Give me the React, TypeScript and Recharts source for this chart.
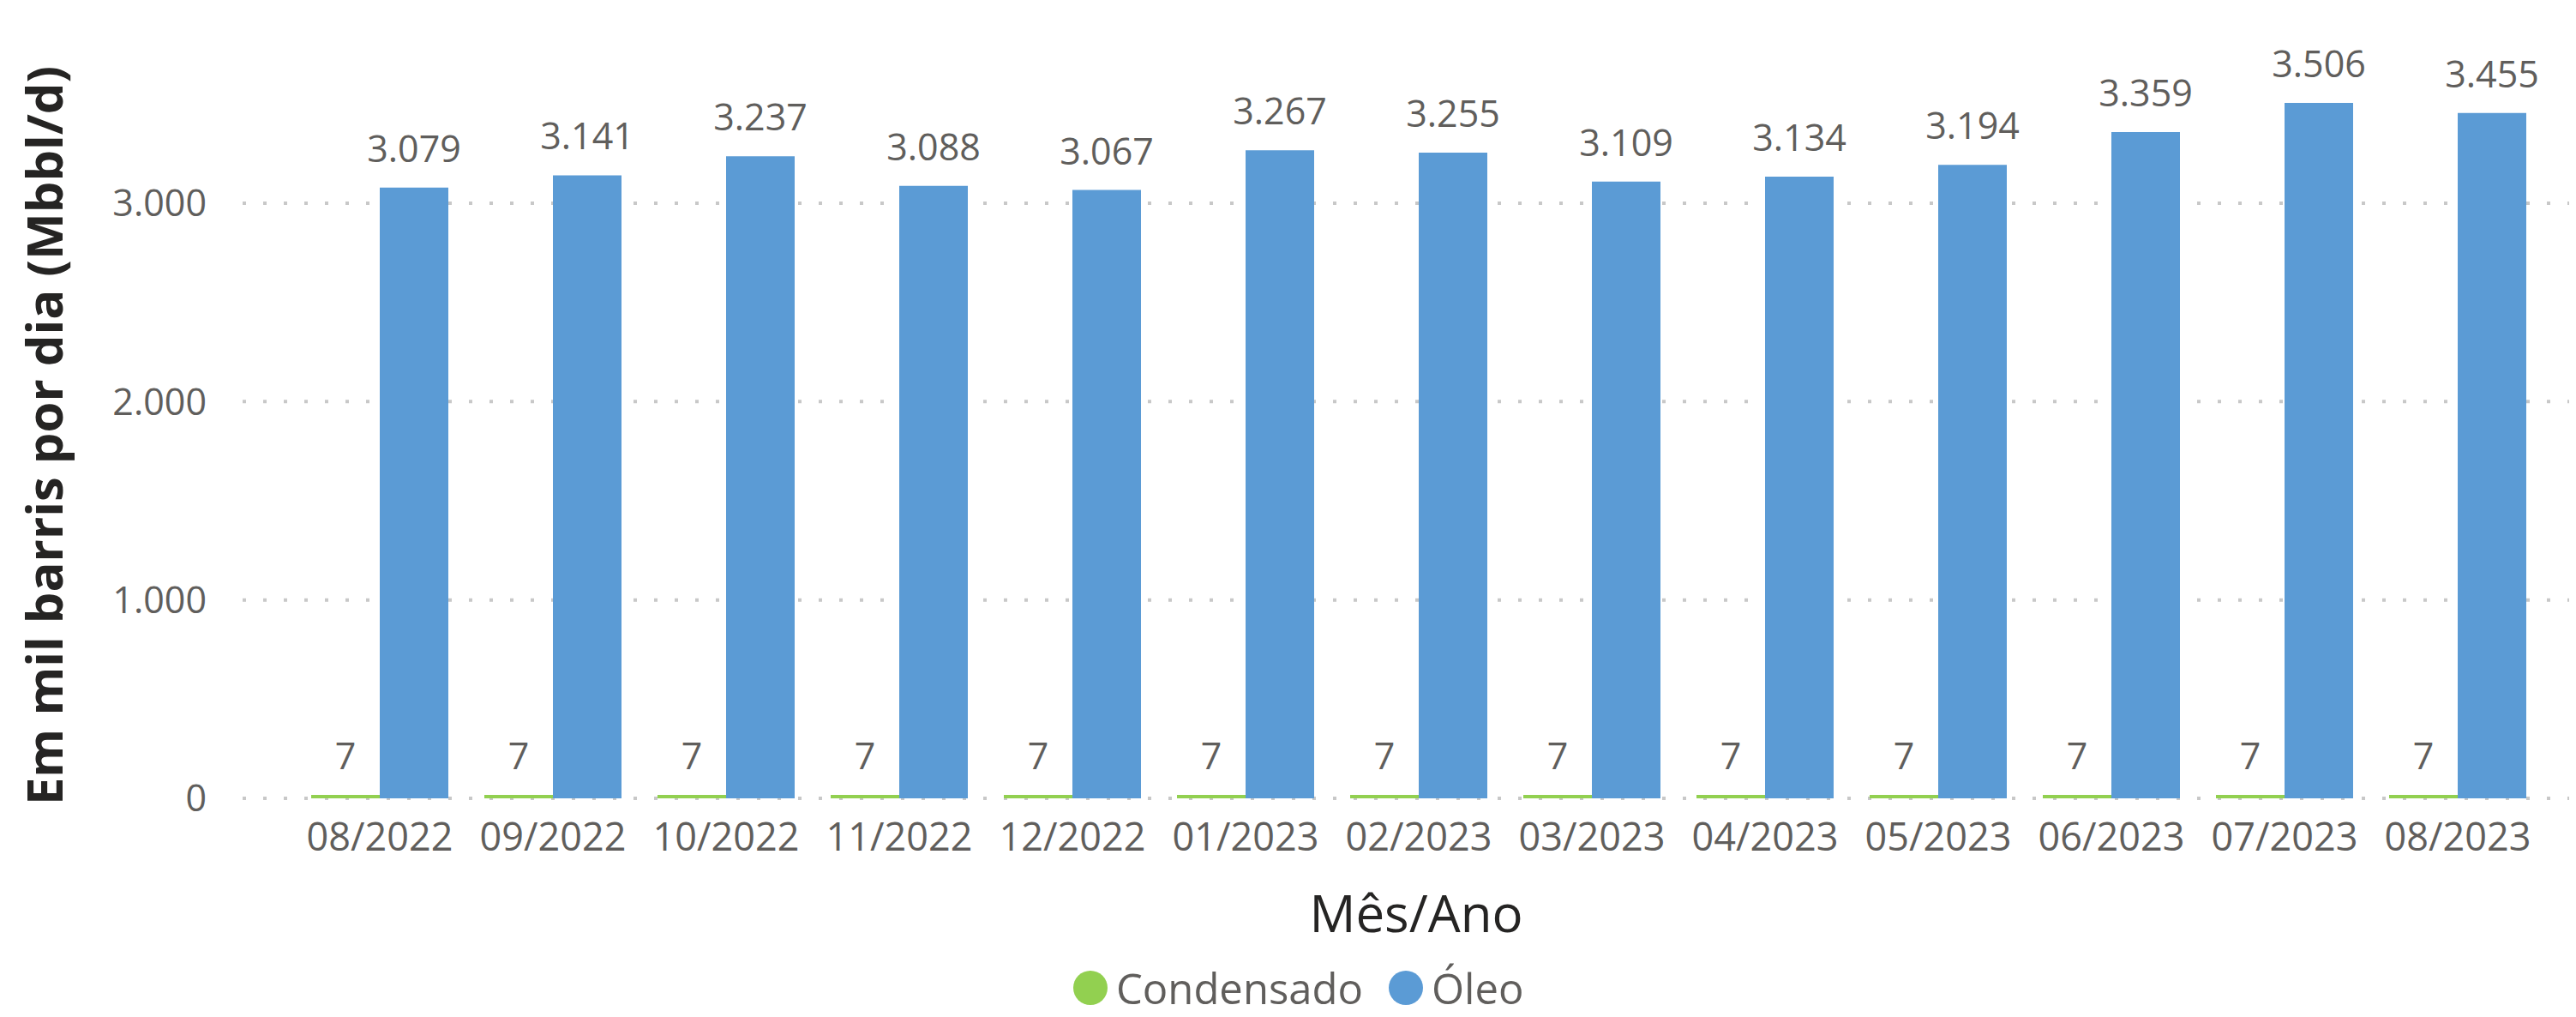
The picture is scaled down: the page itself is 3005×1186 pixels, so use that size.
import React from "react"
import { BarChart, Bar, XAxis, YAxis, CartesianGrid, Legend, LabelList } from "recharts"

const months = [
  "08/2022", "09/2022", "10/2022", "11/2022", "12/2022", "01/2023", "02/2023",
  "03/2023", "04/2023", "05/2023", "06/2023", "07/2023", "08/2023",
]
const condensado = [7, 7, 7, 7, 7, 7, 7, 7, 7, 7, 7, 7, 7]
const oleo = [3079, 3141, 3237, 3088, 3067, 3267, 3255, 3109, 3134, 3194, 3359, 3506, 3455]
const yTicks = [0, 1000, 2000, 3000]

const data = months.map((m, i) => ({ month: m, condensado: condensado[i], oleo: oleo[i] }))

const FONT = "'Segoe UI', 'Open Sans', sans-serif"
const GREEN = "#92D050"
const BLUE = "#5B9BD5"
const TEXT = "#605E5C"

// pt-BR style thousands separator
const fmt = (v: number) => String(Math.round(v)).replace(/\B(?=(\d{3})+(?!\d))/g, ".")

function YTitle() {
  return (
    <text
      x={73}
      y={508}
      transform="rotate(-90 73 508)"
      textAnchor="middle"
      fontFamily={FONT}
      fontWeight={700}
      fontSize={58}
      fill="#252423"
    >
      Em mil barris por dia (Mbbl/d)
    </text>
  )
}

function LegendContent() {
  const items = [
    { name: "Condensado", color: GREEN },
    { name: "Óleo", color: BLUE },
  ]
  return (
    <div style={{ display: "flex", alignItems: "center", fontFamily: FONT, fontSize: 49, lineHeight: "44px", color: TEXT, whiteSpace: "nowrap" }}>
      {items.map((it) => (
        <div key={it.name} style={{ display: "flex", alignItems: "center", marginRight: 30 }}>
          <span style={{ width: 40, height: 40, borderRadius: "50%", background: it.color, display: "inline-block", marginRight: 10 }} />
          <span>{it.name}</span>
        </div>
      ))}
    </div>
  )
}

export default function App() {
  return (
    <div style={{ width: 3005, height: 1186, background: "#fff" }}>
      <style>{`body{margin:0}`}</style>
      <BarChart
        width={3005}
        height={1186}
        data={data}
        margin={{ top: 52, right: 8, bottom: 85, left: 0 }}
        barGap={0}
        style={{ fontFamily: FONT }}
      >
        <CartesianGrid
          vertical={false}
          horizontalValues={yTicks}
          stroke="#C8C8C8"
          strokeWidth={4}
          strokeDasharray="4 20"
        />
        <XAxis
          dataKey="month"
          axisLine={false}
          tickLine={false}
          tickSize={0}
          tickMargin={29}
          height={170}
          interval={0}
          padding={{ left: 59, right: 29 }}
          tick={{ fontSize: 45, fill: TEXT, fontFamily: FONT }}
          label={{ value: "Mês/Ano", position: "insideBottom", offset: 14, dx: 12, fontSize: 60, fill: "#252423", fontFamily: FONT }}
        />
        <YAxis
          domain={[0, 3800]}
          ticks={yTicks}
          width={283}
          axisLine={false}
          tickLine={false}
          tickSize={0}
          tickMargin={42}
          tickFormatter={fmt}
          tick={{ fontSize: 43, fill: TEXT, fontFamily: FONT }}
          label={{ content: () => <YTitle /> }}
        />
        <Legend
          verticalAlign="middle"
          align="center"
          layout="horizontal"
          content={() => <LegendContent />}
          wrapperStyle={{ left: 1252, top: 1130, width: 600, height: 44 }}
        />
        <Bar dataKey="condensado" name="Condensado" fill={GREEN} barSize={80} minPointSize={4} isAnimationActive={false}>
          <LabelList dataKey="condensado" position="top" offset={30} formatter={fmt} fill={TEXT} fontSize={43} fontFamily={FONT} />
        </Bar>
        <Bar dataKey="oleo" name="Óleo" fill={BLUE} barSize={80} isAnimationActive={false}>
          <LabelList dataKey="oleo" position="top" offset={30} formatter={fmt} fill={TEXT} fontSize={43} fontFamily={FONT} />
        </Bar>
      </BarChart>
    </div>
  )
}
